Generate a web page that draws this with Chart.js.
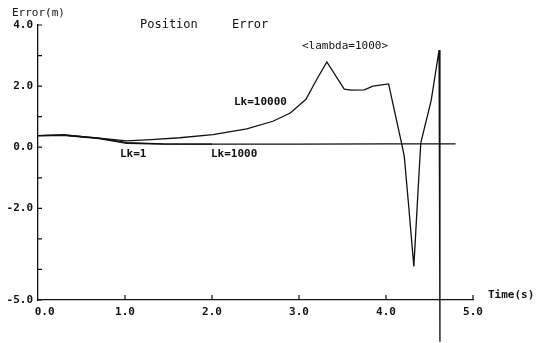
<!DOCTYPE html>
<html><head><meta charset="utf-8">
<script src="https://cdn.jsdelivr.net/npm/chart.js@4/dist/chart.umd.min.js"></script>
<style>html,body{margin:0;padding:0;background:#fff}#wrap{width:547px;height:343px}</style>
</head><body><div id="wrap"><canvas id="c" width="547" height="343"></canvas></div>
<script>
// Data
const timeLk10000 = [0, 0.3, 0.7, 1.02, 1.3, 1.63, 2.01, 2.4, 2.7, 2.9, 3.08, 3.2, 3.32, 3.52, 3.6, 3.75, 3.85, 4.03, 4.1, 4.18, 4.21, 4.26, 4.32, 4.38, 4.4, 4.52, 4.61, 4.62];
const errLk10000  = [0.38, 0.4, 0.3, 0.21, 0.25, 0.31, 0.41, 0.6, 0.85, 1.12, 1.57, 2.2, 2.79, 1.9, 1.87, 1.88, 2.0, 2.07, 1.16, 0.12, -0.3, -1.9, -3.9, -0.84, 0.14, 1.54, 3.18, -6.37];
const timeLk1000 = [0, 0.3, 0.7, 1.02, 1.44, 2.0, 3.0, 4.0, 4.8];
const errLk1000  = [0.38, 0.4, 0.3, 0.15, 0.11, 0.1, 0.1, 0.11, 0.11];
const timeLk1 = [0, 0.3, 0.7, 1.02, 1.44, 2.0];
const errLk1  = [0.38, 0.39, 0.28, 0.13, 0.1, 0.1];
const xTickValues = [0, 1, 2, 3, 4, 5];
const xTickLabels = ["  0.0", "1.0", "2.0", "3.0", "4.0", "5.0"];
const yTickValues = [-5, -2, 0, 2, 4];
const yTickLabels = ["-5.0", "-2.0", "0.0", "2.0", "4.0"];
const yMinorTicks = [-4, -3, -1, 1, 3];

const pts = (xs, ys) => xs.map((x, i) => ({x, y: ys[i]}));
const lineStyle = {borderColor: '#111', borderWidth: 1.3, pointRadius: 0, tension: 0, fill: false, clip: false};

const annot = {
  id: 'annot',
  afterDraw(chart) {
    const ctx = chart.ctx, xs = chart.scales.x, ys = chart.scales.y;
    ctx.save();
    ctx.strokeStyle = '#111'; ctx.lineWidth = 1.2;
    // inward tick marks
    ctx.beginPath();
    [...yTickValues, ...yMinorTicks].forEach(v => {
      const y = ys.getPixelForValue(v);
      ctx.moveTo(xs.left, y); ctx.lineTo(xs.left + 4, y);
    });
    xTickValues.slice(1).forEach(v => {
      const x = xs.getPixelForValue(v);
      ctx.moveTo(x, ys.bottom); ctx.lineTo(x, ys.bottom - 5);
    });
    ctx.stroke();
    ctx.fillStyle = '#111';
    ctx.textBaseline = 'middle';
    ctx.font = '11px "DejaVu Sans Mono"';
    ctx.fillText('Error(m)', 12, 13);
    ctx.font = '12px "DejaVu Sans Mono"';
    ctx.fillText('Position', 140, 25);
    ctx.fillText('Error', 232, 25);
    ctx.font = '11px "DejaVu Sans Mono"';
    ctx.fillText('<lambda=1000>', 302, 46);
    ctx.font = 'bold 11px "DejaVu Sans Mono"';
    ctx.fillText('Lk=10000', 234, 102);
    ctx.fillText('Lk=1', 120, 154);
    ctx.fillText('Lk=1000', 211, 154);
    ctx.fillText('Time(s)', 488, 295);
    ctx.restore();
  }
};

new Chart(document.getElementById('c'), {
  type: 'line',
  data: {datasets: [
    {label: 'Lk=10000', data: pts(timeLk10000, errLk10000), ...lineStyle},
    {label: 'Lk=1000', data: pts(timeLk1000, errLk1000), ...lineStyle},
    {label: 'Lk=1', data: pts(timeLk1, errLk1), ...lineStyle}
  ]},
  options: {
    responsive: false, animation: false,
    layout: {padding: {top: 25, left: 0, right: 74, bottom: 0}},
    plugins: {legend: {display: false}, tooltip: {enabled: false}, title: {display: false}},
    scales: {
      x: {
        type: 'linear', min: 0, max: 5,
        grid: {display: false, drawTicks: false},
        border: {display: true, color: '#111', width: 1.3},
        afterBuildTicks: s => { s.ticks = xTickValues.map(v => ({value: v})); },
        afterFit: s => { s.height = 43; },
        ticks: {
          color: '#111', padding: 6, maxRotation: 0, autoSkip: false,
          font: {family: '"DejaVu Sans Mono"', size: 11, weight: 'bold'},
          callback: (v) => xTickLabels[xTickValues.indexOf(v)]
        }
      },
      y: {
        type: 'linear', min: -5, max: 4,
        grid: {display: false, drawTicks: false},
        border: {display: true, color: '#111', width: 1.3},
        afterBuildTicks: s => { s.ticks = yTickValues.map(v => ({value: v})); },
        afterFit: s => { s.width = 38; },
        ticks: {
          color: '#111', padding: 5, autoSkip: false,
          font: {family: '"DejaVu Sans Mono"', size: 11, weight: 'bold'},
          callback: (v) => yTickLabels[yTickValues.indexOf(v)]
        }
      }
    }
  },
  plugins: [annot]
});
</script></body></html>
